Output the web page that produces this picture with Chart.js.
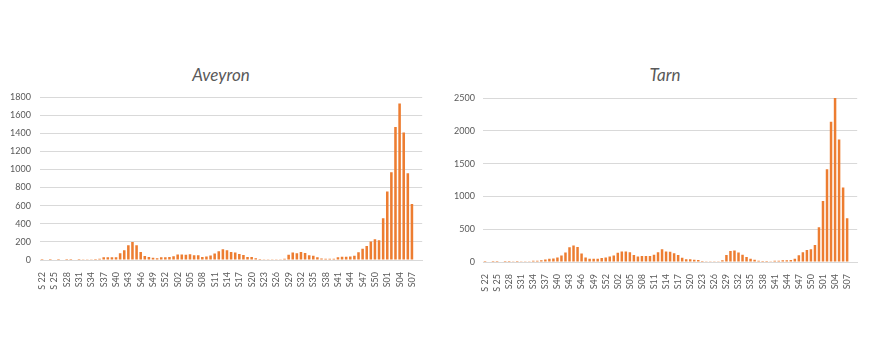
<!DOCTYPE html>
<html lang="fr">
<head>
    <meta charset="UTF-8">
    <title>Aveyron / Tarn</title>
    <script src="https://cdn.jsdelivr.net/npm/chart.js"></script>
    <style>
        body {
            margin: 0;
            width: 870px;
            height: 350px;
            background: #ffffff;
            position: relative;
            overflow: hidden;
            font-family: Lato, "Open Sans", sans-serif;
        }
        .panel {
            position: absolute;
            top: 0;
            height: 300px;
        }
        #left { left: 0; width: 435px; }
        #right { left: 440px; width: 430px; }
        .title {
            position: absolute;
            top: 64px;
            font-size: 17px;
            font-style: italic;
            color: #595959;
            transform: translateX(-50%);
            white-space: nowrap;
        }
    </style>
</head>
<body>
    <div class="title" style="left: 221px;">Aveyron</div>
    <div class="title" style="left: 665px;">Tarn</div>

    <div class="panel" id="left"><canvas id="aveyronChart"></canvas></div>
    <div class="panel" id="right"><canvas id="tarnChart"></canvas></div>

    <script>
        // weeks S22 (2020) -> S09 (2022); S08 and S09 have no data yet
        const weeks = [
            'S 22', 'S 23', 'S 24', 'S 25', 'S 26', 'S 27', 'S28', 'S29', 'S30', 'S31',
            'S32', 'S33', 'S34', 'S35', 'S36', 'S37', 'S38', 'S39', 'S40', 'S41',
            'S42', 'S43', 'S44', 'S45', 'S46', 'S47', 'S48', 'S49', 'S50', 'S51',
            'S52', 'S53', 'S01', 'S02', 'S03', 'S04', 'S05', 'S06', 'S07', 'S08',
            'S09', 'S10', 'S11', 'S12', 'S13', 'S14', 'S15', 'S16', 'S17', 'S18',
            'S19', 'S20', 'S21', 'S22', 'S23', 'S24', 'S25', 'S26', 'S27', 'S28',
            'S29', 'S30', 'S31', 'S32', 'S33', 'S34', 'S35', 'S36', 'S37', 'S38',
            'S39', 'S40', 'S41', 'S42', 'S43', 'S44', 'S45', 'S46', 'S47', 'S48',
            'S49', 'S50', 'S51', 'S52', 'S01', 'S02', 'S03', 'S04', 'S05', 'S06',
            'S07', 'S08', 'S09'
        ];

        const aveyronCases = [
            1, 0, 1, 0, 1, 0, 1, 1, 0, 1,
            2, 2, 4, 11, 15, 30, 30, 30, 30, 75,
            109, 162, 200, 162, 87, 45, 34, 26, 19, 30,
            30, 34, 41, 60, 60, 57, 64, 53, 53, 34,
            38, 49, 72, 98, 120, 109, 88, 84, 66, 55,
            33, 33, 18, 11, 7, 7, 3, 2, 2, 15,
            57, 82, 75, 89, 78, 52, 46, 29, 16, 15,
            15, 15, 29, 37, 37, 40, 48, 86, 123, 154,
            203, 228, 218, 461, 756, 968, 1469, 1728, 1407, 959,
            619, null, null
        ];

        const tarnCases = [
            1, 0, 1, 1, 0, 1, 1, 2, 1, 2,
            3, 10, 20, 20, 25, 40, 50, 55, 70, 100,
            145, 225, 250, 230, 130, 70, 50, 50, 50, 60,
            70, 85, 100, 140, 160, 160, 150, 105, 85, 90,
            90, 90, 110, 150, 195, 160, 158, 133, 107, 66,
            41, 41, 36, 31, 15, 10, 5, 5, 5, 28,
            107, 166, 176, 146, 112, 77, 51, 36, 20, 15,
            15, 10, 20, 20, 25, 25, 31, 51, 102, 148,
            184, 194, 260, 530, 928, 1413, 2137, 2500, 1867, 1137,
            668, null, null
        ];

        const barColor = '#ED7D31';
        const gridColor = '#d9d9d9';
        const textColor = '#595959';

        function makeChart(id, values, yMax, yStep, opts) {
            const ctx = document.getElementById(id).getContext('2d');
            return new Chart(ctx, {
                type: 'bar',
                data: {
                    labels: weeks,
                    datasets: [{
                        data: values,
                        backgroundColor: barColor,
                        barPercentage: 0.62,
                        categoryPercentage: 1
                    }]
                },
                options: {
                    responsive: true,
                    maintainAspectRatio: false,
                    animation: false,
                    layout: {
                        padding: { top: opts.top, right: opts.right, left: 0, bottom: 0 }
                    },
                    plugins: {
                        legend: { display: false },
                        tooltip: { enabled: false }
                    },
                    scales: {
                        x: {
                            offset: true,
                            grid: { display: false },
                            border: { display: true, color: gridColor, width: 1 },
                            ticks: {
                                autoSkip: false,
                                minRotation: 90,
                                maxRotation: 90,
                                padding: 4,
                                color: textColor,
                                font: { family: 'Lato', size: 9 },
                                // only every third week gets a label
                                callback: function (value, index) {
                                    return index % 3 === 0 ? this.getLabelForValue(value) : '';
                                }
                            },
                            afterFit: scale => { scale.height = opts.xHeight; }
                        },
                        y: {
                            min: 0,
                            max: yMax,
                            border: { display: false },
                            grid: { color: gridColor, drawTicks: false, lineWidth: 1 },
                            ticks: {
                                stepSize: yStep,
                                padding: opts.tickPad,
                                color: textColor,
                                font: { family: 'Lato', size: 9 },
                                callback: value => String(value)
                            },
                            afterFit: scale => { scale.width = opts.yWidth; }
                        }
                    }
                }
            });
        }

        makeChart('aveyronChart', aveyronCases, 1800, 200,
            { top: 97, right: 10, xHeight: 40, yWidth: 40, tickPad: 9 });
        makeChart('tarnChart', tarnCases, 2500, 500,
            { top: 98, right: 3, xHeight: 38, yWidth: 43, tickPad: 8 });
    </script>
</body>
</html>
